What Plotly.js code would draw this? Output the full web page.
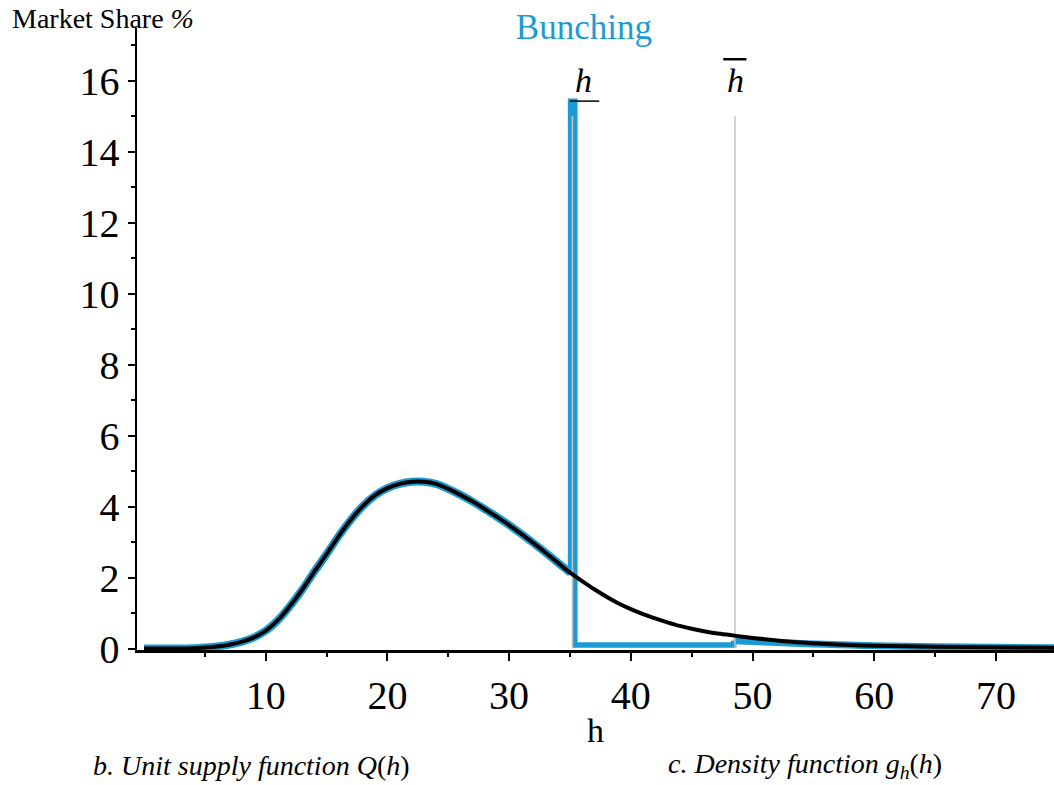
<!DOCTYPE html>
<html>
<head>
<meta charset="utf-8">
<script src="https://cdn.plot.ly/plotly-3.0.1.min.js"></script>
<style>html,body{margin:0;padding:0;background:#fff;}#chart{width:1054px;height:785px;}</style>
</head>
<body>
<div id="chart"></div>
<script>
// Original density (black curve)
const hGrid = [0,1,2,3,4,5,6,7,8,9,10,11,12,13,14,15,16,17,18,19,20,21,22,23,24,25,26,27,28,29,30,31,32,33,34,35,36,37,38,39,40,41,42,43,44,45,46,47,48,49,50,52,54,56,58,60,65,70,75];
const densityShare = [0,0,0,0,0.01,0.03,0.06,0.11,0.19,0.31,0.5,0.8,1.2,1.66,2.17,2.66,3.17,3.63,4.02,4.32,4.52,4.64,4.7,4.7,4.64,4.5,4.33,4.14,3.93,3.71,3.48,3.23,2.97,2.7,2.42,2.14,1.9,1.67,1.46,1.27,1.11,0.97,0.85,0.74,0.64,0.56,0.49,0.43,0.39,0.34,0.3,0.23,0.17,0.13,0.1,0.08,0.05,0.035,0.025];

// Bunching density (blue curve): part below the lower threshold
const bunchCurveH = [0,1,2,3,4,5,6,7,8,9,10,11,12,13,14,15,16,17,18,19,20,21,22,23,24,25,26,27,28,29,30,31,32,33,34,35.05];
const bunchCurveShare = [0,0,0,0,0.01,0.03,0.06,0.11,0.19,0.31,0.5,0.8,1.2,1.66,2.17,2.66,3.17,3.63,4.02,4.32,4.52,4.64,4.7,4.7,4.64,4.5,4.33,4.14,3.93,3.71,3.48,3.23,2.97,2.7,2.42,2.13];
// bunching spike and gap between the thresholds
const bunchSpikeH = [35.05,35.05,35.4,35.4,48.45,48.45];
const bunchSpikeShare = [2.13,15.42,15.42,0.1,0.1,0.22];
// tail above the upper threshold
const bunchTailH = [48.45,50,52,54,56,58,60,65,70,75];
const bunchTailShare = [0.22,0.2,0.17,0.14,0.12,0.1,0.08,0.05,0.035,0.025];

// Thresholds
const hLow = 35.2;
const hHigh = 48.56;
const thresholdTop = 15;

const xTickVals = [10,20,30,40,50,60,70];
const xMinorVals = [5,15,25,35,45,55,65];
const yTickVals = [0,2,4,6,8,10,12,14,16];
const yMinorVals = [1,3,5,7,9,11,13,15,17];

const serif = '"Liberation Serif", "Times New Roman", serif';
const blue = '#1c9ad3';

const traces = [
  {x: bunchCurveH, y: bunchCurveShare, mode: 'lines', line: {color: blue, width: 8, shape: 'spline', smoothing: 0.7}, hoverinfo: 'skip'},
  {x: bunchTailH, y: bunchTailShare, mode: 'lines', line: {color: blue, width: 7, shape: 'spline', smoothing: 0.7}, hoverinfo: 'skip'},
  {x: bunchSpikeH, y: bunchSpikeShare, mode: 'lines', line: {color: blue, width: 5.5, shape: 'linear'}, hoverinfo: 'skip'},
  {x: [hLow, hLow], y: [0, thresholdTop], mode: 'lines', line: {color: '#c4c4c4', width: 1.5}, hoverinfo: 'skip'},
  {x: [hHigh, hHigh], y: [0, thresholdTop], mode: 'lines', line: {color: '#c4c4c4', width: 1.5}, hoverinfo: 'skip'},
  {x: hGrid, y: densityShare, mode: 'lines', line: {color: '#000', width: 4, shape: 'spline', smoothing: 0.7}, hoverinfo: 'skip'}
];

const layout = {
  width: 1054, height: 785,
  margin: {l: 137, r: 0, t: 28, b: 135},
  paper_bgcolor: '#fff', plot_bgcolor: '#fff',
  showlegend: false,
  title: {text: 'Bunching', font: {family: serif, size: 35, color: blue}, x: 0.554, xref: 'container', xanchor: 'center', y: 0.966, yref: 'container', yanchor: 'middle'},
  xaxis: {
    range: [-0.575, 74.77], showgrid: false, zeroline: false,
    showline: true, linecolor: '#000', linewidth: 2.5,
    tickmode: 'array', tickvals: xTickVals, ticktext: xTickVals.map(String),
    ticks: 'outside', ticklen: 8, tickwidth: 2, tickcolor: '#000',
    minor: {tickmode: 'array', tickvals: xMinorVals, ticks: 'outside', ticklen: 4, tickwidth: 2, tickcolor: '#000', showgrid: false},
    tickfont: {family: serif, size: 40, color: '#000'},
    title: {text: 'h', font: {family: serif, size: 34, color: '#000'}, standoff: 2}
  },
  yaxis: {
    range: [-0.04, 17.48], showgrid: false, zeroline: false,
    showline: true, linecolor: '#000', linewidth: 2.5,
    tickmode: 'array', tickvals: yTickVals, ticktext: yTickVals.map(String),
    ticks: 'outside', ticklen: 7, tickwidth: 2, tickcolor: '#000',
    minor: {tickmode: 'array', tickvals: yMinorVals, ticks: 'outside', ticklen: 4, tickwidth: 2, tickcolor: '#000', showgrid: false},
    tickfont: {family: serif, size: 40, color: '#000'}
  },
  annotations: [
    {text: 'Market Share <i>%</i>', xref: 'paper', yref: 'paper', x: -0.138, y: 1.016, xanchor: 'left', yanchor: 'middle', showarrow: false, font: {family: serif, size: 28, color: '#000'}},
    {text: '<i>h</i>', xref: 'x', yref: 'y', x: 36.1, y: 16.0, xanchor: 'center', yanchor: 'middle', showarrow: false, font: {family: serif, size: 34, color: '#000'}},
    {text: '<i>h</i>', xref: 'x', yref: 'y', x: 48.6, y: 16.0, xanchor: 'center', yanchor: 'middle', showarrow: false, font: {family: serif, size: 34, color: '#000'}},
    {text: '<i>b. Unit supply function Q</i>(<i>h</i>)', xref: 'paper', yref: 'paper', x: -0.05, y: -0.185, xanchor: 'left', yanchor: 'middle', showarrow: false, font: {family: serif, size: 28, color: '#000'}},
    {text: '<i>c. Density function g<sub>h</sub></i>(<i>h</i>)', xref: 'paper', yref: 'paper', x: 0.577, y: -0.185, xanchor: 'left', yanchor: 'middle', showarrow: false, font: {family: serif, size: 28, color: '#000'}}
  ],
  shapes: [
    {type: 'line', xref: 'x', yref: 'y', x0: 35.0, x1: 37.4, y0: 15.42, y1: 15.42, line: {color: '#000', width: 1.5}},
    {type: 'line', xref: 'x', yref: 'y', x0: 47.6, x1: 49.5, y0: 16.6, y1: 16.6, line: {color: '#000', width: 2.5}}
  ]
};

Plotly.newPlot('chart', traces, layout, {displayModeBar: false, staticPlot: true});
</script>
</body>
</html>
